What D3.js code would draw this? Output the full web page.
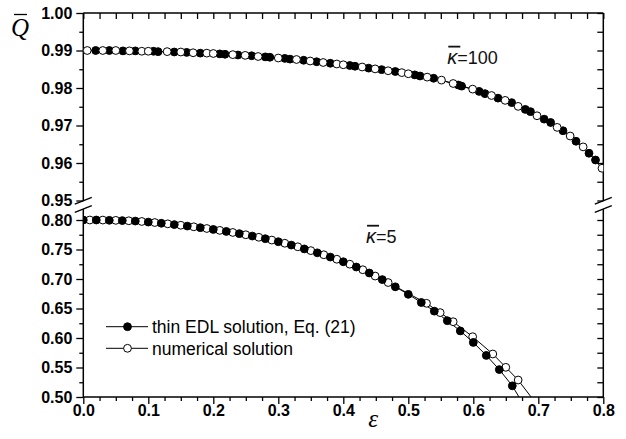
<!DOCTYPE html>
<html>
<head>
<meta charset="utf-8">
<script src="https://cdn.jsdelivr.net/npm/d3@7"></script>
<style>
  body { margin: 0; background: #fff; }
  svg { display: block; }
</style>
</head>
<body>
<svg id="chart" width="626" height="439"></svg>
<script>
// κ̄ = 100 : thin EDL solution (Eq. 21), [ε, Q̄]
const kappa100Edl = [
  [0.019,0.9900],[0.040,0.9900],[0.061,0.9899],[0.080,0.9899],[0.108,0.9898],[0.115,0.9897],
  [0.140,0.9896],[0.159,0.9895],[0.180,0.9893],[0.210,0.9891],[0.218,0.9890],[0.238,0.9888],
  [0.259,0.9886],[0.280,0.9883],[0.287,0.9882],[0.310,0.9879],[0.318,0.9877],[0.339,0.9874],
  [0.359,0.9870],[0.380,0.9866],[0.410,0.9860],[0.418,0.9858],[0.439,0.9853],[0.459,0.9849],
  [0.480,0.9844],[0.510,0.9835],[0.518,0.9832],[0.539,0.9826],[0.577,0.9808],[0.582,0.9805],
  [0.609,0.9791],[0.618,0.9785],[0.638,0.9773],[0.659,0.9761],[0.680,0.9743],[0.688,0.9737],
  [0.709,0.9717],[0.719,0.9708],[0.738,0.9686],[0.758,0.9658],[0.778,0.9626],[0.788,0.9608]
];
// κ̄ = 100 : numerical solution
const kappa100Num = [
  [0.006,0.9900],[0.030,0.9900],[0.050,0.9900],[0.071,0.9899],[0.090,0.9898],[0.100,0.9898],
  [0.129,0.9897],[0.150,0.9896],[0.169,0.9894],[0.190,0.9893],[0.200,0.9892],[0.230,0.9889],
  [0.249,0.9887],[0.269,0.9884],[0.300,0.9880],[0.328,0.9876],[0.349,0.9872],[0.369,0.9868],
  [0.390,0.9864],[0.400,0.9862],[0.429,0.9856],[0.449,0.9851],[0.469,0.9846],[0.490,0.9841],
  [0.500,0.9838],[0.529,0.9829],[0.551,0.9821],[0.569,0.9812],[0.599,0.9797],[0.628,0.9780],
  [0.649,0.9767],[0.669,0.9751],[0.698,0.9726],[0.729,0.9695],[0.749,0.9672],[0.769,0.9643],
  [0.798,0.9586]
];
// κ̄ = 5 : thin EDL solution (Eq. 21)
const kappa5Edl = [
  [0.00,0.8000],[0.02,0.8000],[0.04,0.7995],[0.06,0.7990],[0.08,0.7982],[0.10,0.7965],
  [0.12,0.7945],[0.14,0.7922],[0.16,0.7897],[0.18,0.7870],[0.20,0.7840],[0.22,0.7806],
  [0.24,0.7769],[0.26,0.7728],[0.28,0.7683],[0.30,0.7632],[0.32,0.7575],[0.34,0.7510],
  [0.36,0.7444],[0.38,0.7372],[0.40,0.7292],[0.42,0.7203],[0.44,0.7102],[0.46,0.6990],
  [0.48,0.6868],[0.50,0.6740],[0.52,0.6602],[0.54,0.6455],[0.56,0.6293],[0.58,0.6120],
  [0.60,0.5925],[0.62,0.5705],[0.64,0.5465],[0.66,0.5190]
];
// continuation of the κ̄ = 5 thin EDL curve below the axis minimum
const kappa5EdlTail = [[0.68,0.4820]];
// κ̄ = 5 : numerical solution
const kappa5Num = [
  [0.01,0.8000],[0.03,0.7999],[0.05,0.7994],[0.07,0.7987],[0.09,0.7975],[0.11,0.7957],
  [0.13,0.7935],[0.15,0.7911],[0.17,0.7885],[0.19,0.7856],[0.21,0.7824],[0.23,0.7789],
  [0.25,0.7750],[0.27,0.7707],[0.29,0.7660],[0.31,0.7606],[0.33,0.7546],[0.35,0.7481],
  [0.37,0.7411],[0.39,0.7335],[0.41,0.7251],[0.43,0.7157],[0.449,0.7050],[0.469,0.6940],
  [0.528,0.6588],[0.549,0.6430],[0.569,0.6276],[0.599,0.6022],[0.630,0.5729],[0.650,0.5503],
  [0.669,0.5288]
];
// continuation of the κ̄ = 5 numerical curve below the axis minimum
const kappa5NumTail = [[0.70,0.4840]];

const xTicks = [0, 0.1, 0.2, 0.3, 0.4, 0.5, 0.6, 0.7, 0.8];
const yTicksUpper = [0.95, 0.96, 0.97, 0.98, 0.99, 1.00];
const yTicksLower = [0.50, 0.55, 0.60, 0.65, 0.70, 0.75, 0.80];
const legendLabels = ["thin EDL solution, Eq. (21)", "numerical solution"];
const curveLabels = [{kappa: "100", eps: 0.56, q: 0.9865, panel: "upper"},
                     {kappa: "5", eps: 0.435, q: 0.7615, panel: "lower"}];

const svg = d3.select("#chart");
const plotLeft = 83.3, plotRight = 603.3;

const x = d3.scaleLinear().domain([0, 0.8]).range([plotLeft, plotRight]);
const yU = d3.scaleLinear().domain([0.95, 1.00]).range([200.5, 13]);
const yL = d3.scaleLinear().domain([0.50, 0.80]).range([397, 220]);

const plotTop = yU(1.00), plotBottom = yL(0.50);

// minor tick positions
const xMinor = d3.range(0, 32).map(i => i * 0.025).filter(v => Math.abs(v * 10 - Math.round(v * 10)) > 1e-6);
const yMinorU = yTicksUpper.slice(0, -1).map(v => v + 0.005);
const yMinorL = yTicksLower.slice(0, -1).map(v => v + 0.025);

const tickFont = "bold 16px Arial, 'Liberation Sans', sans-serif";

function styleAxis(g) {
  g.select(".domain").remove();
  g.selectAll(".tick line").attr("stroke", "#000").attr("stroke-width", 1.3);
  g.selectAll(".tick text").style("font", tickFont).attr("fill", "#000");
}

// ---- left axis (ticks outward)
svg.append("g").attr("transform", `translate(${plotLeft},0)`)
  .call(d3.axisLeft(yU).tickValues(yTicksUpper).tickSize(7).tickPadding(4).tickFormat(d3.format(".2f")))
  .call(styleAxis);
svg.append("g").attr("transform", `translate(${plotLeft},0)`)
  .call(d3.axisLeft(yU).tickValues(yMinorU).tickSize(4).tickFormat(""))
  .call(styleAxis);
svg.append("g").attr("transform", `translate(${plotLeft},0)`)
  .call(d3.axisLeft(yL).tickValues(yTicksLower).tickSize(7).tickPadding(4).tickFormat(d3.format(".2f")))
  .call(styleAxis);
svg.append("g").attr("transform", `translate(${plotLeft},0)`)
  .call(d3.axisLeft(yL).tickValues(yMinorL).tickSize(4).tickFormat(""))
  .call(styleAxis);

// ---- right axis (ticks inward)
[[yU, yTicksUpper.concat(yMinorU)], [yL, yTicksLower.concat(yMinorL)]].forEach(([sc, vals]) => {
  svg.append("g").attr("transform", `translate(${plotRight},0)`)
    .call(d3.axisLeft(sc).tickValues(vals).tickSize(6).tickFormat(""))
    .call(styleAxis);
});

// ---- bottom axis (ticks outward)
svg.append("g").attr("transform", `translate(0,${plotBottom})`)
  .call(d3.axisBottom(x).tickValues(xTicks).tickSize(7).tickPadding(1).tickFormat(d3.format(".1f")))
  .call(styleAxis);
svg.append("g").attr("transform", `translate(0,${plotBottom})`)
  .call(d3.axisBottom(x).tickValues(xMinor).tickSize(4).tickFormat(""))
  .call(styleAxis);

// ---- top axis (ticks inward)
svg.append("g").attr("transform", `translate(0,${plotTop})`)
  .call(d3.axisBottom(x).tickValues(xTicks.concat(xMinor)).tickSize(6).tickFormat(""))
  .call(styleAxis);

// ---- frame lines with axis breaks
const breakA = yU(0.95) + 0.2, breakB = yU(0.95) + 8.5;
const frame = svg.append("g").attr("stroke", "#000").attr("stroke-width", 1.5).attr("fill", "none");
frame.append("line").attr("x1", plotLeft).attr("x2", plotRight).attr("y1", plotTop).attr("y2", plotTop);
frame.append("line").attr("x1", plotLeft).attr("x2", plotRight).attr("y1", plotBottom).attr("y2", plotBottom);
[plotLeft, plotRight].forEach(ax => {
  frame.append("line").attr("x1", ax).attr("x2", ax).attr("y1", plotTop).attr("y2", breakA);
  frame.append("line").attr("x1", ax).attr("x2", ax).attr("y1", breakB).attr("y2", plotBottom);
  [breakA, breakB].forEach(by => {
    frame.append("line").attr("x1", ax - 8.5).attr("y1", by + 3.4)
      .attr("x2", ax + 8.5).attr("y2", by - 3.4).attr("stroke-width", 1.3);
  });
});

// ---- clip regions for the two panels
const defs = svg.append("defs");
defs.append("clipPath").attr("id", "clipUpper").append("rect")
  .attr("x", plotLeft).attr("y", 0).attr("width", plotRight - plotLeft).attr("height", yU(0.95));
defs.append("clipPath").attr("id", "clipLower").append("rect")
  .attr("x", plotLeft).attr("y", yL(0.80) - 8).attr("width", plotRight - plotLeft)
  .attr("height", plotBottom - yL(0.80) + 8);

const R = 3.9;

function drawSeries(g, data, ys, filled) {
  g.selectAll(null).data(data).enter().append("circle")
    .attr("cx", d => x(d[0])).attr("cy", d => ys(d[1])).attr("r", R)
    .attr("fill", filled ? "#000" : "#fff")
    .attr("stroke", "#000").attr("stroke-width", 1);
}
function drawLine(g, data, ys) {
  g.append("path").datum(data)
    .attr("d", d3.line().x(d => x(d[0])).y(d => ys(d[1])))
    .attr("fill", "none").attr("stroke", "#000").attr("stroke-width", 1);
}

// upper panel: κ̄ = 100
const gU = svg.append("g").attr("clip-path", "url(#clipUpper)");
drawLine(gU, kappa100Edl, yU);
drawLine(gU, kappa100Num, yU);
drawSeries(gU, kappa100Edl, yU, true);
drawSeries(gU, kappa100Num, yU, false);

// lower panel: κ̄ = 5
const gL = svg.append("g").attr("clip-path", "url(#clipLower)");
drawLine(gL, kappa5Edl.concat(kappa5EdlTail), yL);
drawLine(gL, kappa5Num.concat(kappa5NumTail), yL);
drawSeries(gL, kappa5Num, yL, false);
drawSeries(gL, kappa5Edl, yL, true);

// ---- curve labels κ̄ = …
curveLabels.forEach(c => {
  const ys = c.panel === "upper" ? yU : yL;
  const tx = x(c.eps), ty = ys(c.q);
  const t = svg.append("text").attr("x", tx).attr("y", ty)
    .style("font", "18px Arial, 'Liberation Sans', sans-serif").attr("fill", "#111");
  t.append("tspan").text("κ").style("font-style", "italic").style("font-size", "20px");
  t.append("tspan").text("=" + c.kappa);
  svg.append("line").attr("x1", tx + 1).attr("x2", tx + 13)
    .attr("y1", ty - 17).attr("y2", ty - 17)
    .attr("stroke", "#111").attr("stroke-width", 1.8);
});

// ---- legend
const legY = [326.7, 348.3];
legendLabels.forEach((lab, i) => {
  const g = svg.append("g");
  g.append("line").attr("x1", 106).attr("x2", 148).attr("y1", legY[i]).attr("y2", legY[i])
    .attr("stroke", "#000").attr("stroke-width", 1);
  g.append("circle").attr("cx", 127.5).attr("cy", legY[i]).attr("r", R)
    .attr("fill", i === 0 ? "#000" : "#fff").attr("stroke", "#000").attr("stroke-width", 1);
  g.append("text").attr("x", 152).attr("y", legY[i]).attr("dy", "0.36em")
    .style("font", "17.5px Arial, 'Liberation Sans', sans-serif").attr("fill", "#000").text(lab);
});

// ---- axis titles
svg.append("text").attr("x", 11).attr("y", 36)
  .style("font", "italic 25px 'Liberation Serif', 'Times New Roman', serif").text("Q");
svg.append("line").attr("x1", 14).attr("x2", 27).attr("y1", 14.5).attr("y2", 14.5)
  .attr("stroke", "#000").attr("stroke-width", 1.3);
svg.append("text").attr("x", x(0.446)).attr("y", 427).attr("text-anchor", "middle")
  .style("font", "italic 25px 'Liberation Serif', 'Times New Roman', serif").text("ε");
</script>
</body>
</html>
